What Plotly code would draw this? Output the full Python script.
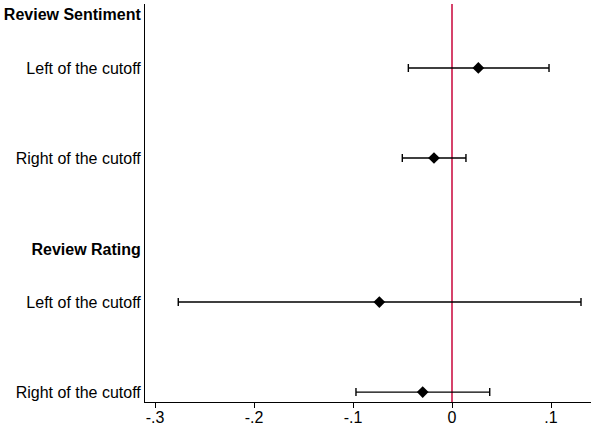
import plotly.graph_objects as go

# Data
labels = ["Left of the cutoff", "Right of the cutoff", "Left of the cutoff", "Right of the cutoff"]
estimates = [0.0266, -0.0182, -0.0734, -0.0296]
ci_low = [-0.0441, -0.0502, -0.2765, -0.0970]
ci_high = [0.0980, 0.0141, 0.1303, 0.0381]
row_pos = [1.0, 2.0, 3.6, 4.6]
headings = ["Review Sentiment", "Review Rating"]
heading_pos = [0.41, 3.01]
x_ticks = [-0.3, -0.2, -0.1, 0.0, 0.1]
x_tick_labels = ["-.3", "-.2", "-.1", "0", ".1"]

err_plus = [h - e for h, e in zip(ci_high, estimates)]
err_minus = [e - l for e, l in zip(estimates, ci_low)]

fig = go.Figure()
fig.add_trace(go.Scatter(
    x=estimates, y=row_pos, mode="markers",
    marker=dict(symbol="diamond", size=9, color="black"),
    error_x=dict(type="data", array=err_plus, arrayminus=err_minus,
                 color="black", thickness=1.4, width=4),
    showlegend=False, hoverinfo="x",
))

fig.add_shape(type="line", xref="x", yref="paper", x0=0, x1=0, y0=0, y1=1,
              line=dict(color="#d6436b", width=2), layer="below")

ytickvals = heading_pos[:1] + row_pos[:2] + heading_pos[1:] + row_pos[2:]
yticktext = ["<b>" + headings[0] + "</b>"] + labels[:2] + ["<b>" + headings[1] + "</b>"] + labels[2:]

fig.update_layout(
    width=592, height=425,
    margin=dict(l=145, r=1, t=4, b=23),
    paper_bgcolor="white", plot_bgcolor="white",
    font=dict(family="Liberation Sans, Arial, sans-serif", size=16, color="black"),
    xaxis=dict(range=[-0.3101, 0.1404], tickvals=x_ticks, ticktext=x_tick_labels,
               showgrid=False, zeroline=False, showline=True, linecolor="black",
               linewidth=1, ticks="outside", ticklen=5, tickcolor="black",
               tickfont=dict(size=16), automargin=False, ticklabelstandoff=-4),
    yaxis=dict(range=[4.71, 0.29], tickvals=ytickvals, ticktext=yticktext,
               showgrid=False, zeroline=False, showline=True, linecolor="black",
               linewidth=1, ticks="", tickfont=dict(size=16), automargin=False),
)

fig.write_html("out.html")
